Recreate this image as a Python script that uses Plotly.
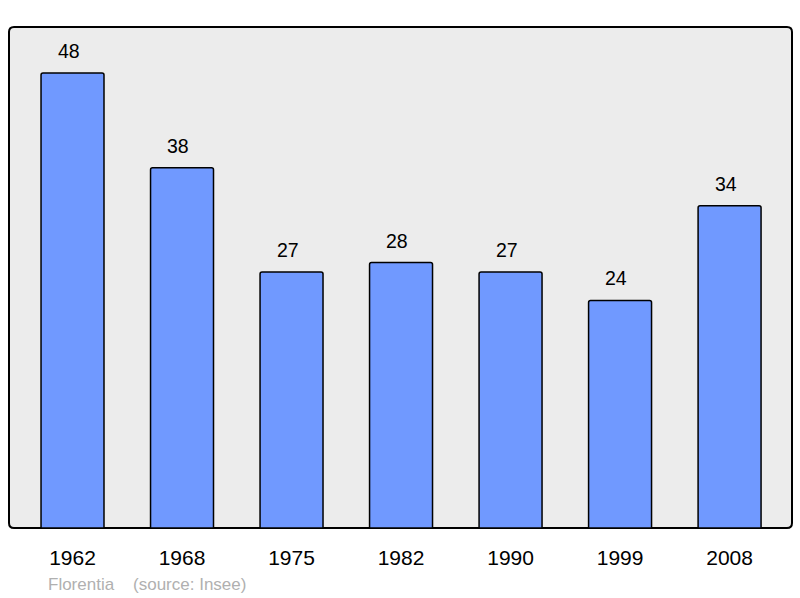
import plotly.graph_objects as go

years = ["1962", "1968", "1975", "1982", "1990", "1999", "2008"]
population = [48, 38, 27, 28, 27, 24, 34]

fig = go.Figure()
fig.add_trace(go.Bar(
    x=years, y=population, width=0.575,
    marker=dict(color="#7099ff", line=dict(color="#000000", width=1.5), cornerradius=2),
    hoverinfo="skip",
))
for i, v in enumerate(population):
    fig.add_annotation(x=i, y=v, text=str(v), showarrow=False, yanchor="bottom",
                       yshift=9, xshift=-4,
                       font=dict(family="Liberation Sans, Arial", size=19.5, color="#000"))

# rounded plot frame
rx, ry = 5/783, 5/501
path = (f"M {rx},0 L {1-rx},0 Q 1,0 1,{ry} L 1,{1-ry} Q 1,1 {1-rx},1 "
        f"L {rx},1 Q 0,1 0,{1-ry} L 0,{ry} Q 0,0 {rx},0 Z")
fig.add_shape(type="path", path=path, xref="paper", yref="paper",
              fillcolor="#ececec", line=dict(color="#000", width=2), layer="below")

fig.add_annotation(x=0, y=0, xref="paper", yref="paper", xanchor="left", yanchor="middle",
                   xshift=37, yshift=-56, text="Florentia&nbsp;&nbsp;&nbsp;&nbsp;(source: Insee)",
                   showarrow=False, font=dict(family="Liberation Sans, Arial", size=17, color="#b0b0b0"))

fig.update_layout(
    width=800, height=598,
    margin=dict(l=9, r=8, t=27, b=70),
    paper_bgcolor="white", plot_bgcolor="rgba(0,0,0,0)",
    showlegend=False,
    xaxis=dict(type="category", range=[-0.58, 6.57], showgrid=False, zeroline=False, showline=False,
               ticks="outside", ticklen=11, tickcolor="rgba(0,0,0,0)",
               tickfont=dict(family="Liberation Sans, Arial", size=21, color="#000")),
    yaxis=dict(range=[0, 52.85], showgrid=False, zeroline=False, showline=False,
               showticklabels=False),
)
fig.write_html("out.html", config={"displayModeBar": False},
               post_script="document.body.style.margin='0';document.body.style.overflow='hidden';")
